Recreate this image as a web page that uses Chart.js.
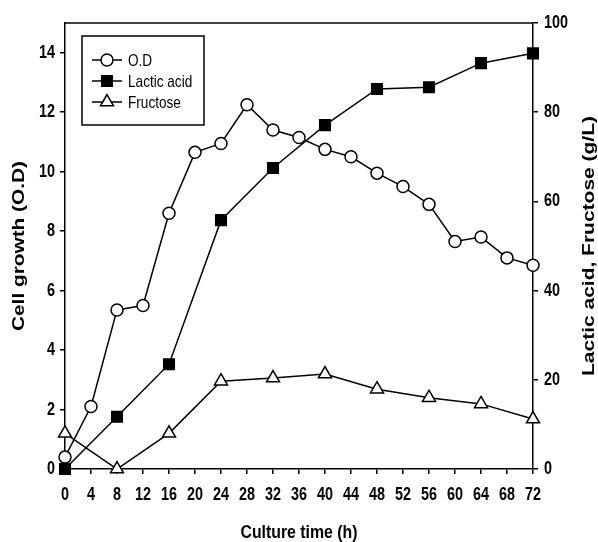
<!DOCTYPE html>
<html>
<head>
<meta charset="utf-8">
<script src="https://cdn.jsdelivr.net/npm/chart.js@4.4.1/dist/chart.umd.min.js"></script>
<style>
  html, body { margin: 0; padding: 0; background: #fff; }
  #wrap { width: 598px; height: 542px; }
</style>
</head>
<body>
<div id="wrap"><canvas id="chart" width="598" height="542"></canvas></div>
<script>
// Sampling times (h)
const odTimes = [0, 4, 8, 12, 16, 20, 24, 28, 32, 36, 40, 44, 48, 52, 56, 60, 64, 68, 72];
const sugarTimes = [0, 8, 16, 24, 32, 40, 48, 56, 64, 72];

// Series values
const odValues = [0.4, 2.1, 5.35, 5.5, 8.6, 10.65, 10.95, 12.25, 11.4, 11.15, 10.75, 10.5, 9.95, 9.5, 8.9, 7.65, 7.8, 7.1, 6.85];
const lacticValues = [0, 11.7, 23.5, 55.8, 67.5, 77.1, 85.2, 85.6, 91.0, 93.2];
const fructoseValues = [8.0, 0, 8.0, 19.7, 20.4, 21.3, 17.9, 16.0, 14.6, 11.2];

const seriesLabels = ['O.D', 'Lactic acid', 'Fructose'];
const leftTitle = 'Cell growth (O.D)';
const rightTitle = 'Lactic acid, Fructose (g/L)';
const xTitle = 'Culture time (h)';

const sans = '"Liberation Sans", Arial, sans-serif';
const NARROW = 0.8; // squeeze factor to mimic Arial Narrow

function toPoints(xs, ys) {
  return xs.map((x, i) => ({ x: x, y: ys[i] }));
}

// text squeezed horizontally
function narrowText(ctx, text, x, y, align, font) {
  ctx.save();
  ctx.font = font;
  ctx.translate(x, y);
  ctx.scale(NARROW, 1);
  ctx.textAlign = align;
  ctx.textBaseline = 'middle';
  ctx.fillStyle = '#000';
  ctx.fillText(text, 0, 0);
  ctx.restore();
}

// text stretched to a given length, optionally rotated
function fitText(ctx, text, x, y, rot, font, length) {
  ctx.save();
  ctx.font = font;
  const w = ctx.measureText(text).width;
  ctx.translate(x, y);
  ctx.rotate(rot);
  ctx.scale(length / w, 1);
  ctx.textAlign = 'center';
  ctx.textBaseline = 'middle';
  ctx.fillStyle = '#000';
  ctx.fillText(text, 0, 0);
  ctx.restore();
}

function drawMarker(ctx, style, x, y, fill) {
  ctx.save();
  ctx.beginPath();
  if (style === 'circle') {
    ctx.arc(x, y, 6, 0, Math.PI * 2);
  } else if (style === 'rect') {
    ctx.rect(x - 5.3, y - 5.3, 10.6, 10.6);
  } else {
    const r = 7.5;
    ctx.moveTo(x, y - r);
    ctx.lineTo(x + r * Math.sin(Math.PI / 3), y + r / 2);
    ctx.lineTo(x - r * Math.sin(Math.PI / 3), y + r / 2);
    ctx.closePath();
  }
  ctx.fillStyle = fill;
  ctx.fill();
  ctx.lineWidth = 1.5;
  ctx.strokeStyle = '#000';
  ctx.stroke();
  ctx.restore();
}

// Top frame line, tick labels, titles, legend box
const extras = {
  id: 'extras',
  afterDraw(chart) {
    const ctx = chart.ctx;
    const a = chart.chartArea;
    const tickFont = 'bold 18px ' + sans;
    ctx.save();
    ctx.strokeStyle = '#000';
    ctx.lineWidth = 1.5;
    ctx.beginPath();
    ctx.moveTo(a.left, a.top);
    ctx.lineTo(a.right, a.top);
    ctx.stroke();

    // tick labels from the scales
    const sx = chart.scales.x, sy = chart.scales.y, sy1 = chart.scales.y1;
    sx.ticks.forEach(t => narrowText(ctx, t.label, sx.getPixelForValue(t.value), a.bottom + 26, 'center', tickFont));
    sy.ticks.forEach(t => narrowText(ctx, t.label, a.left - 10, sy.getPixelForValue(t.value), 'right', tickFont));
    sy1.ticks.forEach(t => narrowText(ctx, t.label, a.right + 11, sy1.getPixelForValue(t.value), 'left', tickFont));

    // axis titles
    const midY = (a.top + a.bottom) / 2;
    fitText(ctx, leftTitle, 20, midY, -Math.PI / 2, 'bold 16px ' + sans, 170);
    fitText(ctx, rightTitle, 590, midY, -Math.PI / 2, 'bold 16px ' + sans, 260);
    fitText(ctx, xTitle, (a.left + a.right) / 2, 533, 0, 'bold 18px ' + sans, 117);

    // legend
    ctx.lineWidth = 1.5;
    ctx.strokeRect(82, 36, 122, 89);
    const styles = ['circle', 'rect', 'triangle'];
    const fills = ['#fff', '#000', '#fff'];
    const rows = [60, 81, 102];
    rows.forEach((y, i) => {
      ctx.beginPath();
      ctx.moveTo(92, y);
      ctx.lineTo(122, y);
      ctx.stroke();
      drawMarker(ctx, styles[i], 107, y, fills[i]);
      narrowText(ctx, seriesLabels[i], 128, y + 1, 'left', '17px ' + sans);
    });
    ctx.restore();
  }
};

const axisGrid = {
  display: true,
  drawOnChartArea: false,
  drawTicks: true,
  tickLength: 5,
  color: '#000',
  lineWidth: 1.5
};
const axisBorder = { display: true, color: '#000', width: 1.5 };
const hiddenTicks = { color: 'rgba(0,0,0,0)', font: { family: sans, size: 17 } };

function lineSet(label, data, axis, style, radius, fill) {
  return {
    label: label,
    data: data,
    yAxisID: axis,
    borderColor: '#000',
    borderWidth: 1.5,
    backgroundColor: fill,
    pointStyle: style,
    pointRadius: radius,
    pointBorderWidth: 1.5,
    pointBackgroundColor: fill,
    pointBorderColor: '#000',
    tension: 0,
    clip: false
  };
}

new Chart(document.getElementById('chart'), {
  type: 'line',
  data: {
    datasets: [
      lineSet(seriesLabels[0], toPoints(odTimes, odValues), 'y', 'circle', 6, '#fff'),
      lineSet(seriesLabels[1], toPoints(sugarTimes, lacticValues), 'y1', 'rect', 7.5, '#000'),
      lineSet(seriesLabels[2], toPoints(sugarTimes, fructoseValues), 'y1', 'triangle', 7.5, '#fff')
    ]
  },
  options: {
    responsive: false,
    animation: false,
    layout: { padding: { top: 23, left: 0, right: 0, bottom: 0 } },
    plugins: {
      legend: { display: false },
      tooltip: { enabled: false }
    },
    scales: {
      x: {
        type: 'linear',
        position: 'bottom',
        min: 0,
        max: 72,
        grid: axisGrid,
        border: axisBorder,
        ticks: Object.assign({ stepSize: 4, maxRotation: 0, autoSkip: false }, hiddenTicks),
        afterFit: s => { s.height = 73; }
      },
      y: {
        type: 'linear',
        position: 'left',
        min: 0,
        max: 15,
        grid: axisGrid,
        border: axisBorder,
        ticks: Object.assign({ stepSize: 2, includeBounds: false }, hiddenTicks),
        afterFit: s => { s.width = 65; }
      },
      y1: {
        type: 'linear',
        position: 'right',
        min: 0,
        max: 100,
        grid: axisGrid,
        border: axisBorder,
        ticks: Object.assign({ stepSize: 20 }, hiddenTicks),
        afterFit: s => { s.width = 65; }
      }
    }
  },
  plugins: [extras]
});
</script>
</body>
</html>
